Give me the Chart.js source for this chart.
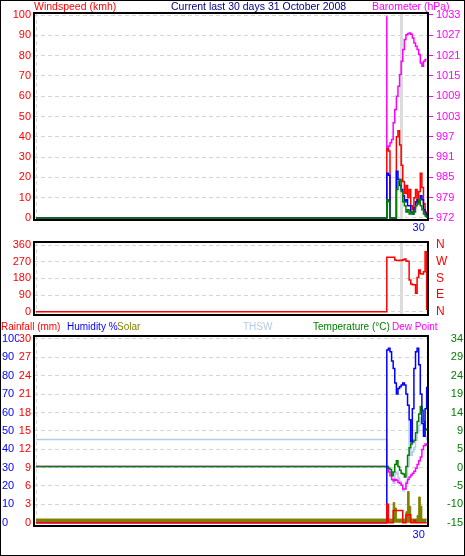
<!DOCTYPE html>
<html>
<head>
<meta charset="utf-8">
<script src="https://cdn.jsdelivr.net/npm/chart.js@4.4.0/dist/chart.umd.min.js"></script>
<style>
  html, body { margin: 0; padding: 0; background: #fff; }
  #page { position: relative; width: 465px; height: 556px; overflow: hidden; background: #fff; }
  #frame { position: absolute; left: 0; top: 0; width: 465px; height: 556px; box-sizing: border-box; border: 1px solid #000; pointer-events: none; }
  canvas { position: absolute; left: 0; }
  .hd { position: absolute; font-family: "Liberation Sans", Arial, sans-serif; font-size: 10px; line-height: 12px; white-space: nowrap; }
</style>
</head>
<body>
<div id="page">
  <canvas id="windChart" width="465" height="234" style="top:0"></canvas>
  <canvas id="dirChart" width="465" height="90" style="top:230px"></canvas>
  <canvas id="tempChart" width="465" height="226" style="top:330px"></canvas>

  <div class="hd" style="left:34px;top:0;color:#ff0000;font-size:10.5px">Windspeed (kmh)</div>
  <div class="hd" style="left:171px;top:0;color:#000080;font-size:10.5px">Current last 30 days 31 October 2008</div>
  <div class="hd" style="left:372px;top:0;color:#ff00ff;font-size:10.5px">Barometer (hPa)</div>

  <div class="hd" style="left:1px;top:321px;color:#ff0000">Rainfall (mm)</div>
  <div class="hd" style="left:67px;top:321px;color:#0000ff">Humidity %</div>
  <div class="hd" style="left:117px;top:321px;color:#808000">Solar</div>
  <div class="hd" style="left:243px;top:321px;color:#b4cde8">THSW</div>
  <div class="hd" style="left:313px;top:321px;color:#008000">Temperature (°C)</div>
  <div class="hd" style="left:392px;top:321px;color:#ff00ff">Dew Point</div>
  <div id="frame"></div>
</div>
<script>
// time axis in hours since start of the month; first entry is the flat start
const hours = [0, 660, 663, 666, 669, 672, 675, 678, 681, 684, 687, 690, 693, 696, 699,
               702, 705, 708, 711, 714, 717, 720, 723, 726, 729, 732, 735];

const windGust  = [0, 34, 33, 0, 0, 0, 0, 40, 43, 36, 26, 18, 12, 16, 10, 14, 6, 4, 10, 14, 7, 13, 22, 15, 7, 3, 0];
const windAvg   = [0, 22, 21, 0, 0, 0, 0, 23, 19, 16, 14, 11, 8, 9, 6, 6, 3, 2, 5, 8, 9, 8, 11, 9, 4, 2, 0];
const windLow   = [0, 9, 8, 0, 0, 0, 0, 14, 18, 19, 13, 8, 6, 3, 4, 2, 3, 2, 3, 6, 7, 9, 6, 4, 2, 1, 0];
const barometer = [null, 1033, 993, 994, 995, 996, 1001, 1005, 1009, 1012, 1015.5, 1019.5, 1023, 1026, 1027.5,
                   1027.8, 1028, 1027.6, 1026.5, 1025, 1024, 1023, 1021.5, 1019, 1018, 1019.5, 1020];

const windDir = [0, 294, 294, 294, 294, 294, 279, 277, 276, 278, 276, 280, 285, 274, 272,
                 171, 150, 145, 145, 100, 184, 225, 205, 204, 216, 324, 9];

const rainfall    = [0, 3.0, 0, 0, 0, 2.0, 2.0, 2.0, 2.0, 2.0, 2.0, 0, 0, 1.3, 1.3, 1.3, 0, 0, 0.4, 0, 0, 0, 0, 0, 0, 0, 0];
const humidity    = [0, 94, 95, 93, 88, 84, 76, 70, 73, 74, 75, 76, 75, 70, 64, 56, 44, 62, 84, 93, 95, 86, 70, 54, 47, 62, 74];
const solar       = [20, 20, 20, 20, 20, 110, 80, 20, 20, 20, 20, 20, 20, 60, 170, 90, 20, 20, 20, 20, 40, 140, 90, 20, 20, 20, 20];
const thsw        = [7.2, -0.5, -1, -1.5, -3.5, -4.5, -2, -1.5, -3, -4, -5, -6.5, -6, -4, 0, 12, 3, 4, 5, 7, 9, 11, 13, 12, 9, 8, 7];
const temperature = [0, 0, -0.5, -0.8, -2.5, -1.5, 0.5, 1.5, 0, -1, -1.8, -2, -2.8, 0, 3, 5, 6, 6.5, 7, 9, 12, 14, 16, 15, 12, 10, 9.5];
const dewPoint    = [0, -0.5, -1.5, -2.5, -3.5, -3.8, -3.5, -3.7, -4.3, -4.5, -5, -6, -6, -4.5, -3.5, -2.8, -2.3, -1.8, -1.3, -0.5, 0.5, 1.5, 2.5, 4.5, 5.5, 6, 5.5];

// tick labels
const dayTicks = [0, 720];
const dayLabels = ['', '30'];
const windTicks = [0, 10, 20, 30, 40, 50, 60, 70, 80, 90, 100];
const baroTicks = [972.4, 978.5, 984.6, 990.7, 996.8, 1002.9, 1009.0, 1015.1, 1021.2, 1027.3, 1033.4];
const dirTicks = [0, 90, 180, 270, 360];
const dirLabels = ['N', 'E', 'S', 'W', 'N'];
const humTicks = [0, 10, 20, 30, 40, 50, 60, 70, 80, 90, 100];
const rainTicks = [0, 3, 6, 9, 12, 15, 18, 21, 24, 27, 30];
const tempTicks = [-15, -10.1, -5.2, -0.3, 4.6, 9.5, 14.4, 19.3, 24.2, 29.1, 34];
const tempTickLabels = ['-15', '-10', '-5', '0', '5', '9', '14', '19', '24', '29', '34'];
const markerHour = 687;

const GRID = '#d4d4d4';
Chart.defaults.font.family = '"Liberation Sans", Arial, sans-serif';
Chart.defaults.font.size = 11;

const pts = vals => vals.map((v, i) => ({ x: hours[i], y: v }));

function line(values, color, axis, extra) {
    return Object.assign({
        data: pts(values), borderColor: color, backgroundColor: color, borderWidth: 1.5,
        pointRadius: 0, tension: 0, stepped: 'before', fill: false, yAxisID: axis
    }, extra || {});
}

// force axis size and drop label padding so the plot boxes sit where we want
function fix(size) {
    return scale => {
        if (scale.isHorizontal()) scale.height = size; else scale.width = size;
        scale.paddingTop = 0; scale.paddingBottom = 0;
        scale.paddingLeft = 0; scale.paddingRight = 0;
    };
}
function setTicks(values) {
    return scale => { scale.ticks = values.map(v => ({ value: v })); };
}

function xAxis(showLabels, height, pad) {
    return {
        type: 'linear', min: -3.8, max: 737.5,
        afterBuildTicks: setTicks(dayTicks), afterFit: fix(height),
        ticks: { display: showLabels, autoSkip: false, maxRotation: 0, color: '#0000ff', padding: pad,
                 callback: (v, i) => dayLabels[i] },
        grid: { color: c => (c.tick && c.tick.value === 0) ? GRID : 'rgba(0,0,0,0)', drawTicks: false },
        border: { display: false, dash: [4, 3] }
    };
}

const framePlugin = {
    id: 'frame',
    beforeDatasetsDraw(chart, args, opts) {
        if (opts.marker == null) return;
        const { ctx, chartArea: a } = chart;
        const x = chart.scales.x.getPixelForValue(opts.marker);
        ctx.save();
        ctx.fillStyle = '#dcdcdc';
        ctx.fillRect(Math.round(x) - 1, a.top, 3, a.bottom - a.top);
        ctx.restore();
    },
    afterDraw(chart) {
        const { ctx, chartArea: a } = chart;
        ctx.save();
        ctx.strokeStyle = '#000';
        ctx.lineWidth = 2;
        ctx.strokeRect(a.left, a.top, a.right - a.left, a.bottom - a.top);
        ctx.restore();
    }
};

const common = {
    responsive: false, animation: false, devicePixelRatio: 1, events: []
};

// Wind speed + barometer
new Chart(document.getElementById('windChart'), {
    type: 'line',
    data: { datasets: [
        line(windLow, '#008000', 'y'),
        line(windAvg, '#0000ff', 'y'),
        line(windGust, '#ff0000', 'y'),
        line(barometer, '#ff00ff', 'yb', { stepped: 'after' })
    ] },
    plugins: [framePlugin],
    options: Object.assign({}, common, {
        layout: { padding: { top: 13, left: 0, right: 0, bottom: 0 } },
        plugins: { legend: { display: false }, tooltip: { enabled: false }, frame: { marker: markerHour } },
        scales: {
            x: xAxis(true, 14, 1),
            y: {
                position: 'left', min: -1, max: 101,
                afterBuildTicks: setTicks(windTicks), afterFit: fix(34),
                ticks: { color: '#ff0000', padding: 3, autoSkip: false },
                grid: { color: GRID, drawTicks: false },
                border: { display: false, dash: [4, 3] }
            },
            yb: {
                position: 'right', min: 971.8, max: 1034.0,
                afterBuildTicks: setTicks(baroTicks), afterFit: fix(37),
                ticks: { color: '#ff00ff', padding: 3, autoSkip: false, callback: v => Math.round(v) },
                grid: { drawOnChartArea: false, drawTicks: true, tickLength: 5, tickColor: '#ff00ff' },
                border: { display: false }
            }
        }
    })
});

// Wind direction
new Chart(document.getElementById('dirChart'), {
    type: 'line',
    data: { datasets: [ line(windDir, '#ff0000', 'y') ] },
    plugins: [framePlugin],
    options: Object.assign({}, common, {
        layout: { padding: { top: 12, left: 0, right: 0, bottom: 0 } },
        plugins: { legend: { display: false }, tooltip: { enabled: false }, frame: { marker: markerHour } },
        scales: {
            x: xAxis(false, 5, 0),
            y: {
                position: 'left', min: -17.8, max: 376.2,
                afterBuildTicks: setTicks(dirTicks), afterFit: fix(34),
                ticks: { color: '#ff0000', padding: 3, autoSkip: false },
                grid: { color: GRID, drawTicks: false },
                border: { display: false, dash: [4, 3] }
            },
            y2: {
                position: 'right', min: -17.8, max: 376.2,
                afterBuildTicks: setTicks(dirTicks), afterFit: fix(37),
                ticks: { color: '#ff0000', padding: 8, autoSkip: false, font: { size: 12 },
                         callback: (v, i) => dirLabels[i] },
                grid: { drawOnChartArea: false, drawTicks: false },
                border: { display: false }
            }
        }
    })
});

// Rain, humidity, solar, temperatures
new Chart(document.getElementById('tempChart'), {
    type: 'line',
    data: { datasets: [
        line(rainfall, '#ff0000', 'yr'),
        line(humidity, '#0000ff', 'yh'),
        line(temperature, '#008000', 'yt'),
        line(dewPoint, '#ff00ff', 'yt'),
        line(thsw, '#b4cde8', 'yt'),
        line(solar, '#808000', 'ys', { fill: 'origin', borderWidth: 1 })
    ] },
    plugins: [framePlugin],
    options: Object.assign({}, common, {
        layout: { padding: { top: 6, left: 2, right: 2, bottom: 0 } },
        plugins: { legend: { display: false }, tooltip: { enabled: false }, frame: {} },
        scales: {
            x: xAxis(true, 30, 2),
            yh: {
                position: 'left', weight: 1, min: -1.8, max: 101.63,
                afterBuildTicks: setTicks(humTicks), afterFit: fix(17),
                ticks: { color: '#0000ff', padding: 0, crossAlign: 'far', autoSkip: false },
                grid: { color: GRID, drawTicks: false },
                border: { display: false, dash: [4, 3] }
            },
            yr: {
                position: 'left', weight: 0, min: -0.54, max: 30.49,
                afterBuildTicks: setTicks(rainTicks), afterFit: fix(15),
                ticks: { color: '#ff0000', padding: 3, autoSkip: false },
                grid: { display: false, drawTicks: false },
                border: { display: false }
            },
            yt: {
                position: 'right', min: -15.88, max: 34.8,
                afterBuildTicks: setTicks(tempTicks), afterFit: fix(35),
                ticks: { color: '#008000', padding: 0, crossAlign: 'far', autoSkip: false,
                         callback: (v, i) => tempTickLabels[i] },
                grid: { display: false, drawTicks: false },
                border: { display: false }
            },
            ys: { display: false, min: -18, max: 1016.3 }
        }
    })
});
</script>
</body>
</html>
